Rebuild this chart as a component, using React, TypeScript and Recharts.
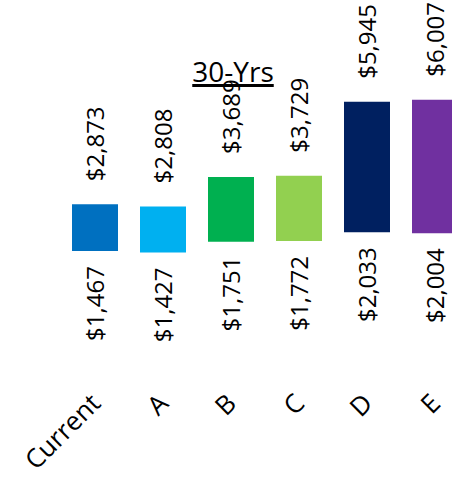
import React from 'react';
import { BarChart, Bar, XAxis, YAxis, Cell, LabelList } from 'recharts';

const categories = ['Current', 'A', 'B', 'C', 'D', 'E'];
const lowValues = [1467, 1427, 1751, 1772, 2033, 2004];
const highValues = [2873, 2808, 3689, 3729, 5945, 6007];
const barColors = ['#0070C0', '#00B0F0', '#00B050', '#92D050', '#002060', '#7030A0'];

const data = categories.map((name, i) => ({
    name,
    range: [lowValues[i], highValues[i]],
}));

const FONT = "'Open Sans', sans-serif";

const fmt = (v: number) => `$${v.toLocaleString('en-US')}`;

const HighLabel = (props: any) => {
    const { index } = props;
    const x = Number(props.x);
    const y = Number(props.y);
    const w = Number(props.width);
    const h = Number(props.height);
    const top = Math.min(y, y + h);
    const cx = x + w / 2;
    const ly = top - 23;
    return (
        <text
            x={cx}
            y={ly}
            transform={`rotate(-90, ${cx}, ${ly})`}
            textAnchor="start"
            dominantBaseline="central"
            fontFamily={FONT}
            fontSize={24}
            fill="#000"
        >
            {fmt(highValues[index])}
        </text>
    );
};

const LowLabel = (props: any) => {
    const { index } = props;
    const x = Number(props.x);
    const y = Number(props.y);
    const w = Number(props.width);
    const h = Number(props.height);
    const bottom = Math.max(y, y + h);
    const cx = x + w / 2;
    const ly = bottom + 15;
    return (
        <text
            x={cx}
            y={ly}
            transform={`rotate(-90, ${cx}, ${ly})`}
            textAnchor="end"
            dominantBaseline="central"
            fontFamily={FONT}
            fontSize={24}
            fill="#000"
        >
            {fmt(lowValues[index])}
        </text>
    );
};

const CategoryTick = (props: any) => {
    const { x, payload } = props;
    const tx = Number(x) + 7;
    const ty = 405;
    return (
        <text
            x={tx}
            y={ty}
            transform={`rotate(-45, ${tx}, ${ty})`}
            textAnchor="end"
            fontFamily={FONT}
            fontSize={26}
            fill="#000"
        >
            {payload.value}
        </text>
    );
};

export default function App() {
    return (
        <div
            style={{
                position: 'fixed',
                left: 0,
                top: 0,
                width: 452,
                height: 477,
                overflow: 'hidden',
                background: '#fff',
            }}
        >
            <BarChart
                width={480}
                height={477}
                data={data}
                margin={{ top: 0, right: 11, left: 61, bottom: 0 }}
            >
                <XAxis
                    dataKey="name"
                    axisLine={false}
                    tickLine={false}
                    height={177}
                    interval={0}
                    tick={<CategoryTick />}
                />
                <YAxis hide domain={[0, 9000]} />
                <Bar dataKey="range" barSize={46} isAnimationActive={false}>
                    {data.map((_d, i) => (
                        <Cell key={`cell-${i}`} fill={barColors[i]} />
                    ))}
                    <LabelList dataKey="range" content={<HighLabel />} />
                    <LabelList dataKey="range" content={<LowLabel />} />
                </Bar>
            </BarChart>
            <div
                style={{
                    position: 'absolute',
                    left: 233,
                    top: 57,
                    transform: 'translateX(-50%)',
                    fontFamily: FONT,
                    fontSize: 28,
                    lineHeight: '28px',
                    whiteSpace: 'nowrap',
                    color: '#000',
                    textDecoration: 'underline',
                    textDecorationThickness: '3px',
                    textUnderlineOffset: '2px',
                }}
            >
                30-Yrs
            </div>
        </div>
    );
}
